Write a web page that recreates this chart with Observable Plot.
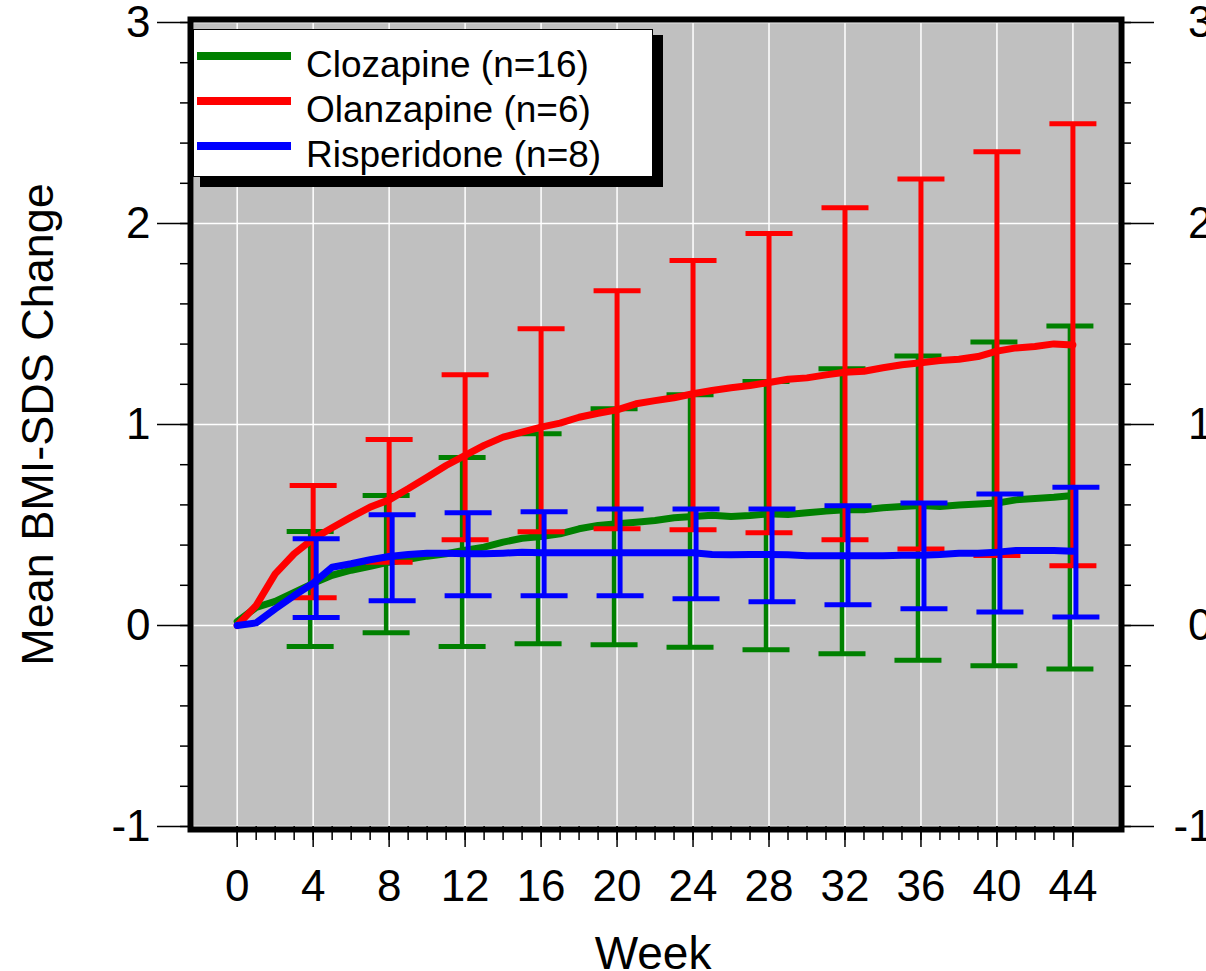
<!DOCTYPE html>
<html><head><meta charset="utf-8">
<script src="https://cdn.jsdelivr.net/npm/d3@7"></script>
<script src="https://cdn.jsdelivr.net/npm/@observablehq/plot@0.6"></script>
<style>html,body{margin:0;padding:0;background:#fff;overflow:hidden}</style>
</head><body><div id="chart"></div>
<script>
// ---- data ----
const weeks = [0,1,2,3,4,5,6,7,8,9,10,11,12,13,14,15,16,17,18,19,20,21,22,23,24,25,26,27,28,29,30,31,32,33,34,35,36,37,38,39,40,41,42,43,44];
const clozapineMean = [0.02,0.09,0.12,0.165,0.21,0.25,0.275,0.295,0.315,0.33,0.345,0.357,0.375,0.39,0.415,0.434,0.443,0.456,0.481,0.498,0.506,0.514,0.522,0.536,0.542,0.549,0.542,0.547,0.556,0.552,0.561,0.569,0.576,0.576,0.586,0.592,0.597,0.592,0.6,0.605,0.609,0.625,0.632,0.638,0.647];
const olanzapineMean = [0,0.1,0.257,0.357,0.431,0.486,0.539,0.589,0.625,0.68,0.738,0.796,0.846,0.896,0.937,0.962,0.987,1.007,1.036,1.056,1.073,1.103,1.119,1.133,1.153,1.169,1.183,1.194,1.209,1.225,1.232,1.247,1.26,1.265,1.282,1.297,1.307,1.318,1.325,1.338,1.365,1.381,1.388,1.401,1.396];
const risperidoneMean = [0,0.013,0.083,0.149,0.21,0.29,0.307,0.327,0.343,0.353,0.36,0.36,0.357,0.357,0.36,0.365,0.362,0.362,0.362,0.362,0.362,0.362,0.362,0.362,0.362,0.353,0.352,0.353,0.353,0.352,0.347,0.347,0.347,0.347,0.347,0.35,0.35,0.353,0.36,0.36,0.365,0.373,0.373,0.373,0.37];

const barWeeks = [4,8,12,16,20,24,28,32,36,40,44];
const clozapineLow  = [-0.104,-0.036,-0.104,-0.091,-0.096,-0.108,-0.121,-0.141,-0.173,-0.2,-0.216];
const clozapineHigh = [0.468,0.647,0.836,0.954,1.078,1.148,1.214,1.277,1.341,1.41,1.49];
const olanzapineLow  = [0.138,0.315,0.426,0.466,0.481,0.476,0.461,0.426,0.381,0.348,0.297];
const olanzapineHigh = [0.697,0.925,1.248,1.476,1.665,1.816,1.95,2.078,2.221,2.357,2.496];
const risperidoneLow  = [0.04,0.123,0.148,0.148,0.148,0.133,0.118,0.103,0.083,0.067,0.042];
const risperidoneHigh = [0.431,0.551,0.561,0.566,0.58,0.58,0.58,0.596,0.61,0.654,0.688];

const seriesNames = ["Clozapine (n=16)", "Olanzapine (n=6)", "Risperidone (n=8)"];
const seriesColors = ["#008000", "#ff0000", "#0000ff"];
const xTicks = [0,4,8,12,16,20,24,28,32,36,40,44];
const yTicks = [-1,0,1,2,3];
const xTitle = "Week";
const yTitle = "Mean BMI-SDS Change";

// ---- build tables ----
const means = [clozapineMean, olanzapineMean, risperidoneMean];
const lows = [clozapineLow, olanzapineLow, risperidoneLow];
const highs = [clozapineHigh, olanzapineHigh, risperidoneHigh];
const offsets = [-3, 0, 3];       // pixel dodge of error bars
const stemWidths = [4.5, 5, 5];

const capSymbol = {
  draw(context, size) {
    const r = Math.sqrt(size / Math.PI);
    context.moveTo(-r, 0);
    context.lineTo(r, 0);
  }
};

const seriesMarks = [];
seriesNames.forEach((name, s) => {
  const line = weeks.map((w, i) => ({week: w, value: means[s][i]}));
  const bars = barWeeks.map((w, i) => ({week: w, low: lows[s][i], high: highs[s][i]}));
  const color = seriesColors[s];
  seriesMarks.push(
    Plot.line(line, {x: "week", y: "value", stroke: color, strokeWidth: 7, strokeLinejoin: "round", strokeLinecap: "round"}),
    Plot.ruleX(bars, {x: "week", y1: "low", y2: "high", stroke: color, strokeWidth: stemWidths[s], dx: offsets[s]}),
    Plot.dot(bars, {x: "week", y: "high", symbol: capSymbol, r: 23.5, fill: "none", stroke: color, strokeWidth: 5, dx: offsets[s]}),
    Plot.dot(bars, {x: "week", y: "low", symbol: capSymbol, r: 23.5, fill: "none", stroke: color, strokeWidth: 5, dx: offsets[s]})
  );
});

const minorX = d3.range(0, 45, 1);
const minorY = d3.range(-1, 3.001, 0.2).map(v => +v.toFixed(1));

const chart = Plot.plot({
  width: 1206,
  height: 971,
  marginLeft: 193,
  marginRight: 88,
  marginTop: 22,
  marginBottom: 145,
  x: {domain: [-2.3, 46.4]},
  y: {domain: [-1, 3]},
  style: {fontFamily: "'Liberation Sans', Arial, sans-serif", background: "#fff", color: "#000", overflow: "visible"},
  marks: [
    Plot.frame({fill: "#c0c0c0", stroke: null}),
    Plot.ruleX(xTicks, {stroke: "#fff", strokeWidth: 1.5}),
    Plot.ruleY(yTicks, {stroke: "#fff", strokeWidth: 1.5}),
    ...seriesMarks,
    // left axis
    Plot.axisY(yTicks, {anchor: "left", tickSize: 36, tickPadding: 7, fontSize: 44, strokeWidth: 1.5, label: null, tickFormat: d => String(d)}),
    Plot.axisY(minorY, {anchor: "left", tickSize: 13, strokeWidth: 1.5, fill: "none", label: null}),
    // right axis
    Plot.axisY(yTicks, {anchor: "right", tickSize: 35, tickPadding: 59, textAnchor: "end", fontSize: 44, strokeWidth: 1.5, label: null, tickFormat: d => String(d)}),
    Plot.axisY(minorY, {anchor: "right", tickSize: 12, strokeWidth: 1.5, fill: "none", label: null}),
    // bottom axis
    Plot.axisX(xTicks, {anchor: "bottom", tickSize: 21, tickPadding: 22, fontSize: 44, strokeWidth: 1.5, label: null, tickFormat: d => String(d)}),
    Plot.axisX(minorX, {anchor: "bottom", tickSize: 14, strokeWidth: 1.5, fill: "none", label: null}),
    // titles
    Plot.text([xTitle], {text: d => d, frameAnchor: "bottom", lineAnchor: "bottom", dy: 142, dx: -3, fontSize: 46}),
    Plot.text([yTitle], {text: d => d, frameAnchor: "left", rotate: -90, lineAnchor: "bottom", dx: -141, fontSize: 45, textAnchor: "middle"}),
    Plot.frame({stroke: "#000", strokeWidth: 6, inset: -3})
  ]
});

// ---- legend inside the plot area ----
const svg = d3.select(chart);
const lg = svg.append("g").attr("class", "legend").attr("text-anchor", "start");
lg.append("rect").attr("x", 200).attr("y", 35).attr("width", 463).attr("height", 152).attr("fill", "#000");
lg.append("rect").attr("x", 193.5).attr("y", 29.5).attr("width", 459).attr("height", 147).attr("fill", "#fff").attr("stroke", "#000").attr("stroke-width", 1);
seriesNames.forEach((name, s) => {
  const base = 77 + s * 45;
  lg.append("line").attr("x1", 197).attr("x2", 291).attr("y1", base - 21).attr("y2", base - 21)
    .attr("stroke", seriesColors[s]).attr("stroke-width", 8);
  lg.append("text").attr("x", 306).attr("y", base).attr("font-size", 37).attr("fill", "#000")
    .attr("text-anchor", "start").text(name);
});

document.getElementById("chart").appendChild(chart);
</script>
</body></html>
